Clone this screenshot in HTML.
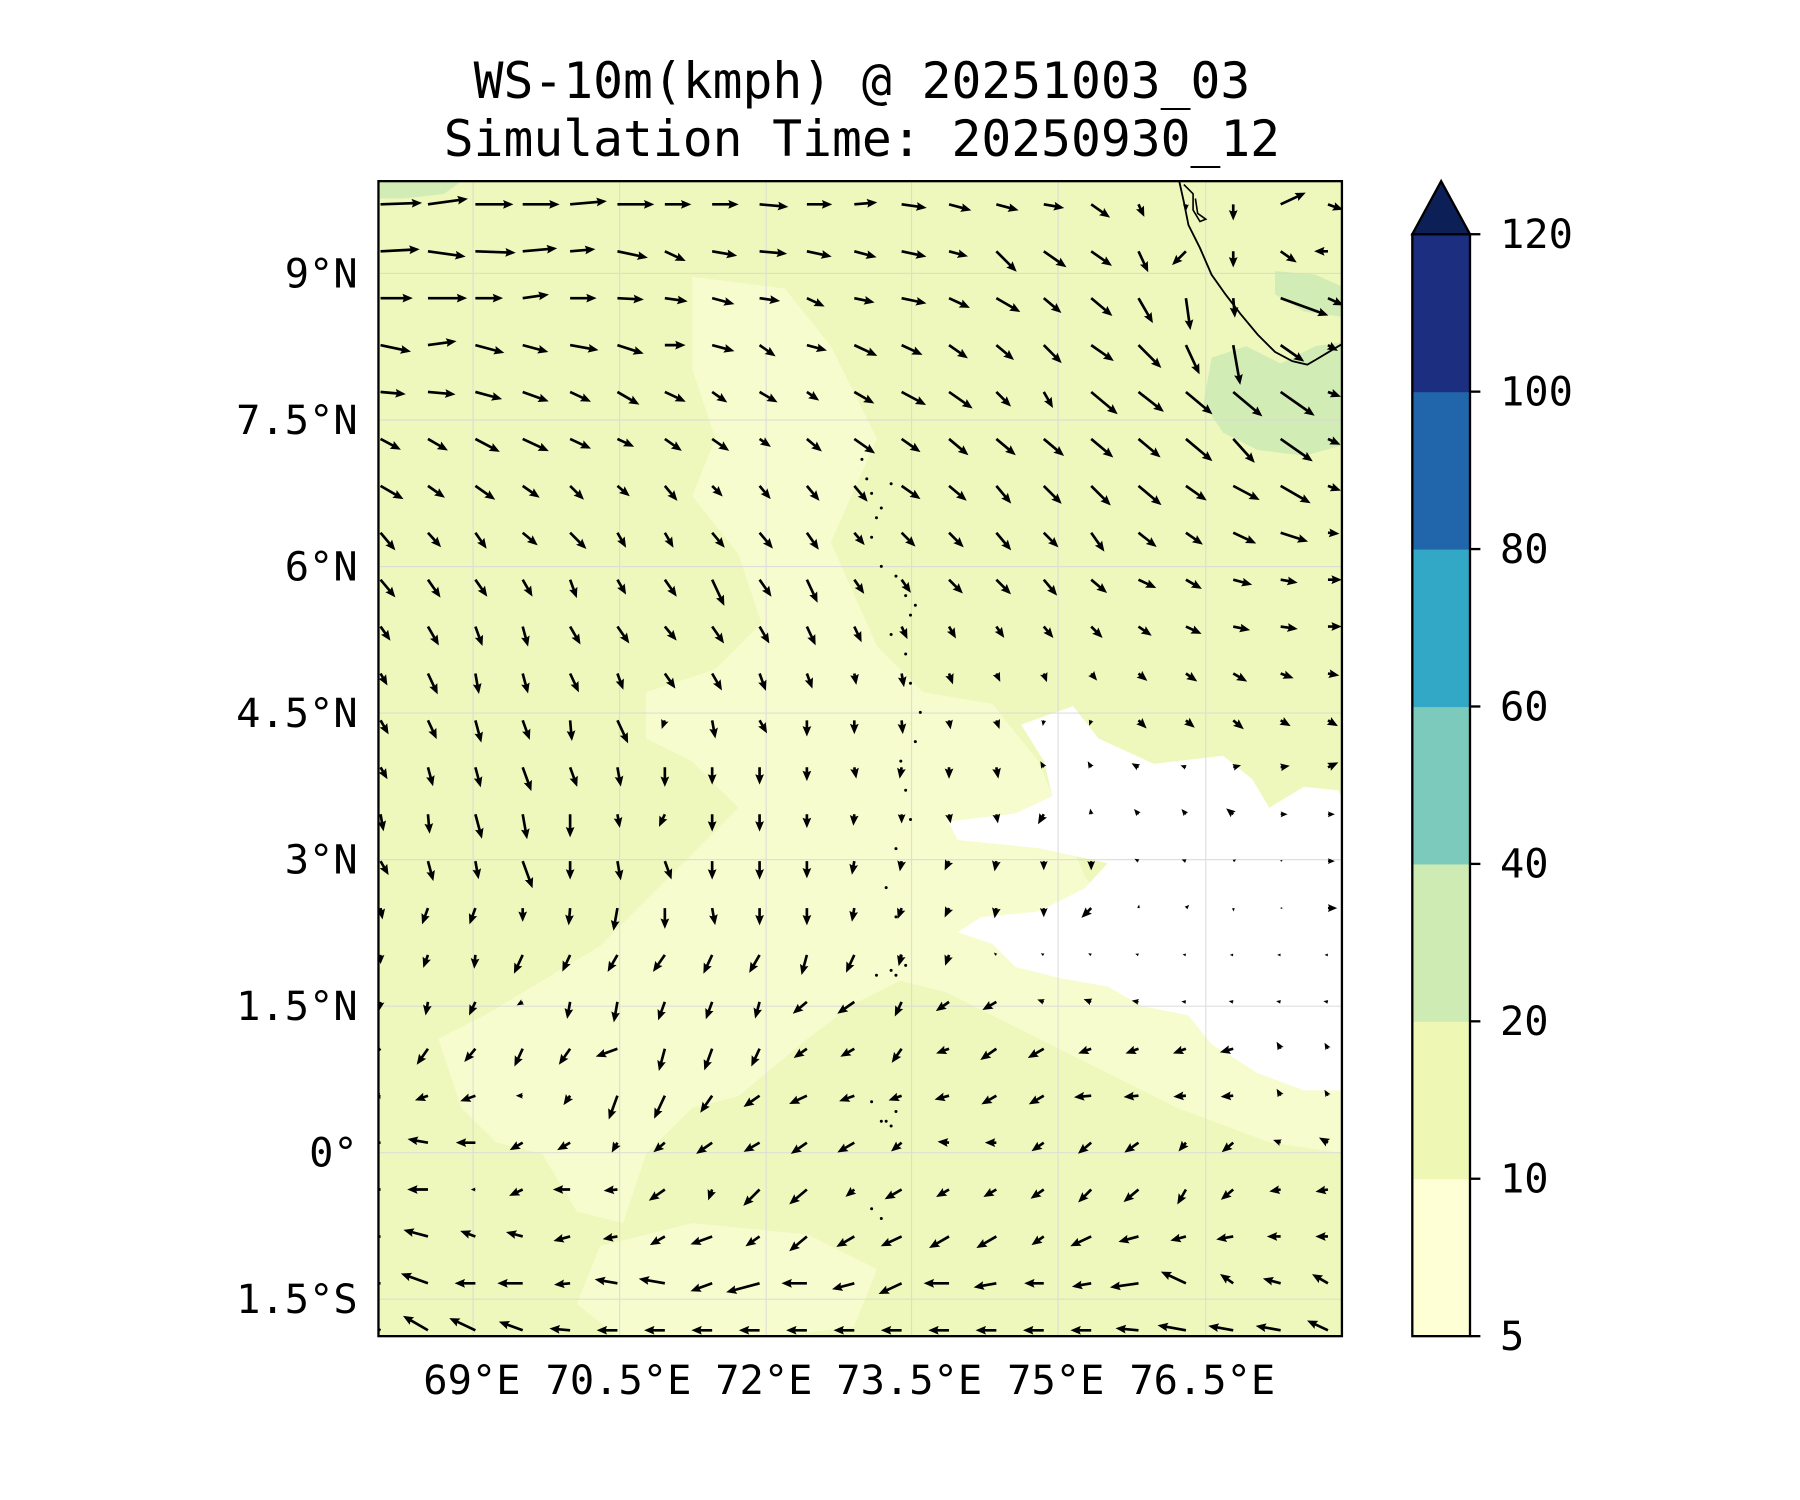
<!DOCTYPE html>
<html><head><meta charset="utf-8"><title>WS-10m</title>
<style>html,body{margin:0;padding:0;background:#fff}svg{display:block}text{font-family:"DejaVu Sans Mono","Liberation Mono",monospace;fill:#000}</style>
</head><body>
<svg id="fig" width="1800" height="1500" viewBox="0 0 1560 1300" xmlns="http://www.w3.org/2000/svg">
<defs><clipPath id="pclip"><rect x="328" y="157" width="835" height="1001"/></clipPath></defs>
<text x="747" y="85" font-size="43" text-anchor="middle">WS-10m(kmph) @ 20251003_03</text>
<text x="747" y="135" font-size="43" text-anchor="middle">Simulation Time: 20250930_12</text>
<g clip-path="url(#pclip)">
<rect x="328" y="157" width="835" height="1001" fill="#eff8bc"/>
<path fill="#f7fcce" d="M600,240 L680,250 L720,300 L760,380 L720,470 L760,560 L800,600 L860,610 L900,660 L940,760 L1000,830 L1060,880 L1120,920 L1167,930 L1167,1000 L1100,990 L1020,960 L960,930 L900,900 L860,880 L820,860 L780,850 L740,870 L700,900 L640,950 L600,960 L560,1000 L540,1060 L500,1050 L470,1000 L430,990 L400,960 L380,900 L420,880 L470,850 L520,820 L560,780 L600,740 L640,700 L600,660 L560,640 L560,600 L620,580 L660,540 L640,480 L600,430 L620,380 L600,320 Z"/>
<path fill="#f7fcce" d="M520,1080 L600,1060 L700,1070 L760,1100 L740,1150 L640,1162 L540,1162 L500,1130 Z"/>
<path fill="#ffffff" d="M885,628 L930,612 L952,640 L1000,662 L1060,655 L1085,675 L1100,700 L1130,682 L1160,685 L1167,700 L1167,945 L1130,945 L1090,930 L1050,905 L1030,880 L990,872 L960,855 L920,848 L880,838 L860,818 L830,808 L850,795 L900,790 L940,770 L960,748 L900,735 L830,728 L822,712 L880,705 L912,690 L905,660 Z"/>
<path fill="#d2ecb6" d="M1050,310 L1080,300 L1110,315 L1140,300 L1167,296 L1167,385 L1130,395 L1090,390 L1060,375 L1043,350 Z"/>
<path fill="#d2ecb6" d="M1105,235 L1140,238 L1167,250 L1167,275 L1130,270 L1105,255 Z"/>
<path fill="#d2ecb6" d="M328,157 L400,157 L385,168 L350,172 L328,172 Z"/>
<g stroke="#d8d8d8" stroke-width="1" opacity="0.8">
<line x1="410" y1="157" x2="410" y2="1162"/><line x1="537" y1="157" x2="537" y2="1162"/><line x1="664" y1="157" x2="664" y2="1162"/><line x1="790" y1="157" x2="790" y2="1162"/><line x1="917" y1="157" x2="917" y2="1162"/><line x1="1045" y1="157" x2="1045" y2="1162"/>
<line x1="328" y1="237" x2="1167" y2="237"/><line x1="328" y1="364" x2="1167" y2="364"/><line x1="328" y1="491" x2="1167" y2="491"/><line x1="328" y1="618" x2="1167" y2="618"/><line x1="328" y1="745" x2="1167" y2="745"/><line x1="328" y1="872" x2="1167" y2="872"/><line x1="328" y1="999" x2="1167" y2="999"/><line x1="328" y1="1126" x2="1167" y2="1126"/>
</g>
<path fill="none" stroke="#000" stroke-width="1.6" d="M1022,157 L1026,175 L1030,195 L1040,215 L1050,238 L1062,255 L1075,272 L1090,290 L1105,305 L1120,313 L1133,316 L1140,312 L1150,306 L1160,300 L1167,296"/>
<path fill="none" stroke="#000" stroke-width="1.4" d="M1026,160 L1034,168 L1034,182 L1040,192 L1045,190 L1038,185 L1036,172"/>
<g id="islands" fill="#000"></g>
<g id="arrows" fill="#000"></g>
</g>
<rect x="328" y="157" width="835" height="1001" fill="none" stroke="#000" stroke-width="2"/>
<g font-size="35" text-anchor="end">
<text x="310" y="249">9°N</text><text x="310" y="376">7.5°N</text><text x="310" y="503">6°N</text><text x="310" y="630">4.5°N</text><text x="310" y="757">3°N</text><text x="310" y="884">1.5°N</text><text x="310" y="1011">0°</text><text x="310" y="1138">1.5°S</text>
</g>
<g font-size="35" text-anchor="middle">
<text x="409" y="1208">69°E</text><text x="536" y="1208">70.5°E</text><text x="662" y="1208">72°E</text><text x="788" y="1208">73.5°E</text><text x="915" y="1208">75°E</text><text x="1042" y="1208">76.5°E</text>
</g>
<g id="cbar"></g>
</svg>
<script>
const cbLevels = [5, 10, 20, 40, 60, 80, 100, 120];
const cbColors = ["#ffffd6", "#eef8b4", "#cfebb4", "#7bcabb", "#33a7c6", "#2165ab", "#1b2e80"];
const cbExtendColor = "#0c1f56";

const lon0 = 68.04, dlon = 0.487, lat0 = 9.72, dlat = 0.482;
const arrowScale = 1.0;
const windDir = [
[-2,-8,0,0,-5,0,0,0,5,0,-5,8,15,15,10,35,65,90,90,-25,20],
[-3,8,2,-5,-5,12,25,10,5,12,15,12,15,45,35,35,65,135,90,35,180],
[0,0,0,-8,0,3,8,15,8,25,12,12,25,30,40,40,60,82,85,20,25],
[12,-8,15,15,10,18,0,15,35,15,25,25,35,40,45,35,45,65,80,35,30],
[5,5,15,20,25,30,25,35,30,35,30,28,35,45,60,40,38,40,40,35,20],
[28,30,28,25,25,25,35,35,35,40,35,35,40,40,40,40,40,40,48,35,25],
[30,35,35,35,45,40,50,45,50,50,50,35,40,50,45,45,40,35,28,30,20],
[50,48,55,40,45,60,60,50,50,55,50,45,45,50,45,55,38,35,25,18,5],
[50,55,55,60,70,60,55,65,55,65,55,55,45,45,50,40,25,30,15,10,0],
[55,60,70,75,60,55,50,55,60,65,65,65,60,55,50,45,35,25,12,8,0],
[60,65,80,75,65,70,55,60,70,70,80,80,70,65,70,50,40,35,30,20,10],
[60,65,75,70,85,65,110,80,60,90,90,85,80,70,100,110,45,40,40,30,30],
[60,75,75,70,70,80,90,90,90,90,80,100,90,80,-120,-120,-150,-160,-15,-10,-25],
[80,85,75,80,90,80,115,90,90,90,95,90,80,80,120,-100,-130,-130,-140,0,0],
[60,75,80,70,90,80,70,90,90,90,100,100,115,100,90,90,-150,-160,-30,-30,0],
[80,110,110,90,95,100,90,80,90,90,100,110,115,100,90,135,-80,-45,80,0,0],
[90,110,95,115,115,120,125,115,120,105,115,105,110,-135,-150,-150,-160,-170,180,180,180],
[100,100,115,150,100,100,110,110,105,140,145,115,145,150,-160,-160,-170,-175,-170,-170,-170],
[145,125,130,115,125,160,105,110,115,145,150,125,160,145,150,160,160,160,165,-120,-120],
[170,160,160,180,125,110,115,125,145,155,160,160,165,150,150,175,175,175,175,-120,-120],
[180,-170,180,150,150,120,140,145,150,145,150,140,-175,180,145,140,145,130,140,-160,-150],
[180,180,180,155,180,175,145,110,135,140,140,150,150,150,145,135,140,120,140,170,170],
[175,-165,-160,-165,165,170,150,160,145,140,150,155,150,150,145,155,165,165,170,180,180],
[180,-160,180,180,175,-170,-170,160,165,180,165,155,180,170,180,170,172,-155,-145,-165,-150],
[-155,-150,-155,-160,-175,180,180,180,180,180,180,180,180,180,180,180,-175,-170,-170,-170,-155]
];
const windSpd = [
[36,35,33,32,32,32,23,23,25,22,20,22,20,20,18,20,12,6,14,24,14],
[34,33,35,30,22,27,20,22,24,22,20,22,17,25,24,22,20,17,14,17,12],
[28,34,24,23,23,23,20,20,18,17,18,22,20,24,20,24,25,28,17,44,15],
[27,25,26,23,25,24,18,20,17,18,22,20,20,20,22,24,28,28,35,25,10],
[22,24,24,24,20,22,20,16,18,13,20,24,25,18,16,30,28,30,33,36,12],
[20,20,24,25,20,16,18,18,12,17,22,20,22,22,23,25,25,30,28,34,12],
[23,18,21,18,17,14,17,13,15,17,18,20,20,20,22,24,26,22,26,30,12],
[20,17,17,17,20,15,15,17,18,18,14,17,18,20,18,20,20,18,22,25,10],
[20,19,18,17,17,15,18,25,18,22,15,14,17,18,18,18,17,16,17,15,12],
[15,19,18,18,18,18,16,18,17,18,15,12,12,12,13,14,14,15,15,15,12],
[12,20,18,18,18,15,16,17,16,14,10,12,10,8,8,8,10,12,14,12,10],
[14,18,20,18,18,22,8,16,13,14,12,12,8,8,5,5,10,10,12,10,10],
[12,17,18,22,18,17,17,15,15,12,10,10,10,10,6,6,7,5,7,8,10],
[15,17,22,22,20,12,12,15,15,12,10,8,8,8,10,5,6,6,8,6,6],
[14,18,16,25,16,17,17,16,16,15,12,9,9,9,8,8,4,4,3,2,6],
[10,15,15,12,15,20,18,15,15,15,12,10,9,9,8,12,3,4,3,2,8],
[8,12,12,18,16,17,18,18,18,18,17,10,10,3,3,3,3,3,3,3,3],
[8,12,13,6,15,18,17,16,15,16,18,14,14,14,6,7,6,4,4,4,4],
[17,17,15,17,17,20,20,20,17,14,14,15,12,17,16,12,12,12,12,7,6],
[6,12,14,6,10,22,22,18,17,17,14,12,13,15,15,15,13,11,11,7,6],
[15,18,17,13,13,10,13,17,16,17,17,12,10,10,13,15,15,10,13,7,9],
[14,18,4,13,15,12,17,10,20,20,10,17,13,13,14,16,17,15,14,10,11],
[15,22,14,15,15,13,15,20,15,20,18,20,20,20,13,20,18,14,15,12,11],
[24,25,18,22,14,20,23,20,30,22,20,22,22,20,17,17,25,24,14,16,16],
[28,25,25,22,18,18,18,18,18,18,18,18,18,18,18,18,20,25,22,22,20]
];
const islandLon = [73.0,73.05,73.1,73.2,73.3,73.15,73.1,73.2,73.35,73.45,73.5,73.55,73.3,73.45,73.5,73.6,73.55,73.4,73.45,73.5,73.35,73.25,73.35,73.4,73.15,73.3,73.35,73.45,73.1,73.2,73.25,73.3,73.35,73.1,73.2];
const islandLat = [7.1,6.9,6.75,6.6,6.85,6.5,6.3,6.0,5.9,5.7,5.5,5.6,5.3,5.1,4.8,4.5,4.2,4.0,3.7,3.4,3.1,2.7,2.4,2.0,1.8,1.85,1.8,1.9,0.5,0.3,0.3,0.25,0.4,-0.6,-0.7];

const SVGNS = "http://www.w3.org/2000/svg";
function xOfLon(lon){ return 328 + (lon - 68.03) * 84.3; }
function yOfLat(lat){ return 997 - lat * 84.35; }

const ag = document.getElementById('arrows');
for (let j = 0; j < windDir.length; j++) {
  for (let i = 0; i < windDir[j].length; i++) {
    const L = windSpd[j][i] * arrowScale;
    const a = windDir[j][i];
    const x = xOfLon(lon0 + i * dlon) + 1;
    const y = yOfLat(lat0 - j * dlat);
    let w = 2.3, hl = 9, ha = 8, hh = 3.8, len = L;
    if (L < hl) { const s = L / hl; w *= s; hl *= s; ha *= s; hh *= s; }
    const pts = [[0,-w/2],[len-ha,-w/2],[len-hl,-hh],[len,0],[len-hl,hh],[len-ha,w/2],[0,w/2]];
    const p = document.createElementNS(SVGNS, 'polygon');
    p.setAttribute('points', pts.map(q => q[0].toFixed(2)+','+q[1].toFixed(2)).join(' '));
    p.setAttribute('transform', 'translate('+x.toFixed(1)+','+y.toFixed(1)+') rotate('+a+')');
    
    
    ag.appendChild(p);
  }
}

const ig = document.getElementById('islands');
for (let k = 0; k < islandLon.length; k++) {
  const c = document.createElementNS(SVGNS, 'circle');
  c.setAttribute('cx', xOfLon(islandLon[k]).toFixed(1));
  c.setAttribute('cy', yOfLat(islandLat[k]).toFixed(1));
  c.setAttribute('r', '1.3');
  
  
  ig.appendChild(c);
}

const cb = document.getElementById('cbar');
const cbX = 1224, cbW = 50, cbTop = 203, cbBot = 1158;
const step = (cbBot - cbTop) / (cbLevels.length - 1);
for (let k = 0; k < cbColors.length; k++) {
  const r = document.createElementNS(SVGNS, 'rect');
  r.setAttribute('x', cbX); r.setAttribute('width', cbW);
  r.setAttribute('y', (cbBot - (k + 1) * step).toFixed(1));
  r.setAttribute('height', (step + 0.5).toFixed(1));
  r.setAttribute('fill', cbColors[k]);
  
  
  cb.appendChild(r);
}
const tri = document.createElementNS(SVGNS, 'polygon');
tri.setAttribute('points', cbX+','+cbTop+' '+(cbX+cbW/2)+',157 '+(cbX+cbW)+','+cbTop);
tri.setAttribute('fill', cbExtendColor);
tri.setAttribute('stroke', '#000');
tri.setAttribute('stroke-width', '2');


cb.appendChild(tri);
const fr = document.createElementNS(SVGNS, 'rect');
fr.setAttribute('x', cbX); fr.setAttribute('y', cbTop); fr.setAttribute('width', cbW); fr.setAttribute('height', cbBot - cbTop);
fr.setAttribute('fill', 'none'); fr.setAttribute('stroke', '#000'); fr.setAttribute('stroke-width', '2');


cb.appendChild(fr);
for (let k = 0; k < cbLevels.length; k++) {
  const y = cbBot - k * step;
  const t = document.createElementNS(SVGNS, 'line');
  t.setAttribute('x1', cbX + cbW); t.setAttribute('x2', cbX + cbW + 9);
  t.setAttribute('y1', y); t.setAttribute('y2', y);
  t.setAttribute('stroke', '#000'); t.setAttribute('stroke-width', '2');
  
  
  cb.appendChild(t);
  const tx = document.createElementNS(SVGNS, 'text');
  tx.setAttribute('x', 1300); tx.setAttribute('y', (y + 12).toFixed(1));
  tx.setAttribute('font-size', '35');
  tx.textContent = String(cbLevels[k]);
  
  
  cb.appendChild(tx);
}
</script>
</body></html>
